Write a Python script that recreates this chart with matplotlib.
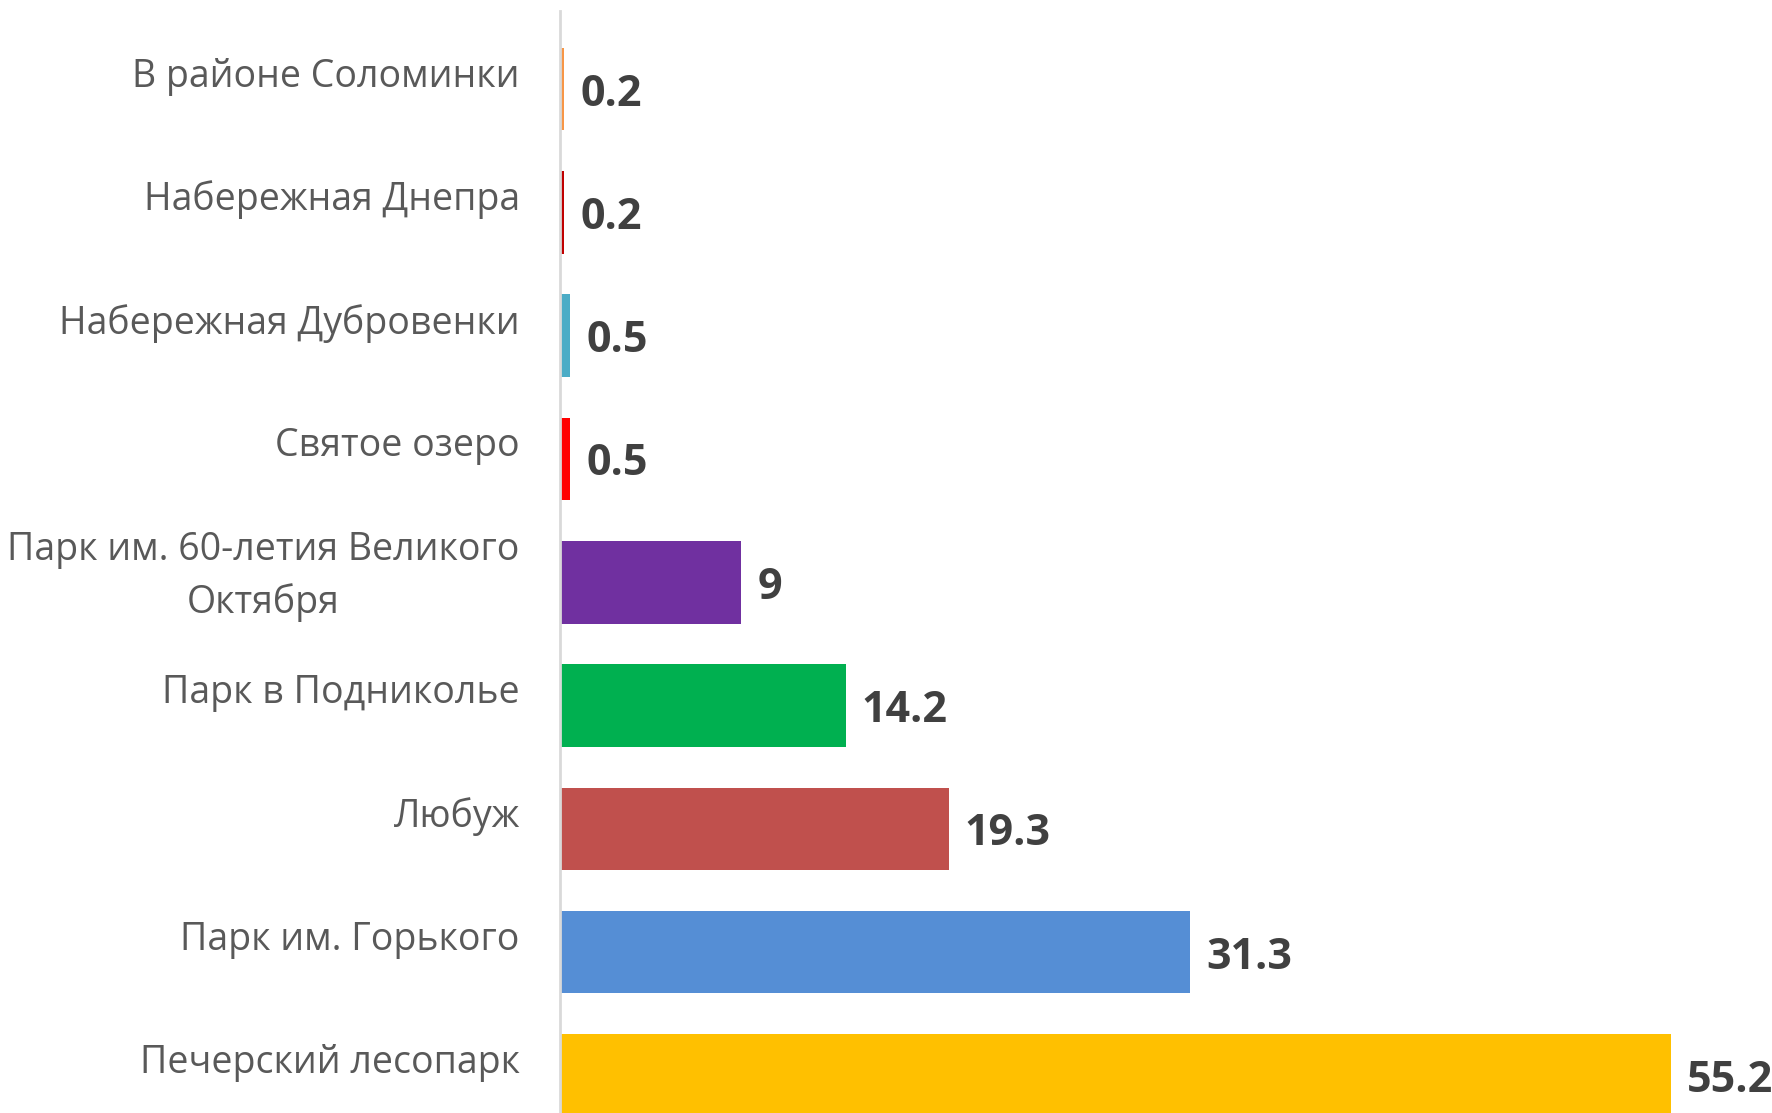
import matplotlib.pyplot as plt
from matplotlib.transforms import ScaledTranslation

plt.rcParams['font.family'] = ['Open Sans', 'DejaVu Sans']

# categories top to bottom
places = ['В районе Соломинки', 'Набережная Днепра', 'Набережная Дубровенки',
          'Святое озеро', 'Парк им. 60-летия Великого\nОктября', 'Парк в Подниколье',
          'Любуж', 'Парк им. Горького', 'Печерский лесопарк']
values = [0.2, 0.2, 0.5, 0.5, 9, 14.2, 19.3, 31.3, 55.2]
colors = ['#F79646', '#C00000', '#4BACC6', '#FF0000', '#7030A0',
          '#00B050', '#C0504D', '#558ED5', '#FFC000']

fig = plt.figure(figsize=(17.72, 11.13), dpi=100)
ax = fig.add_axes([560 / 1772, 0, 1 - 560 / 1772, 1102 / 1113])

pos = list(range(len(places)))
ax.barh(pos, values, height=0.67, color=colors)
ax.set_xlim(0, 60.2)
ax.set_ylim(8.305, -0.633)

# value labels
for p, v in zip(pos, values):
    ax.annotate(f'{v:g}', (v, p), xytext=(16, -5), textcoords='offset pixels',
                va='center', ha='left', fontsize=31, fontweight='bold',
                color='#404040', annotation_clip=False)

ax.set_yticks(pos)
ax.set_yticklabels(places, fontsize=27, color='#595959',
                   multialignment='center', linespacing=1.45)
ax.tick_params(axis='y', length=0, pad=29)
for lab in ax.get_yticklabels():
    lab.set_transform(lab.get_transform() + ScaledTranslation(0, 0.17, fig.dpi_scale_trans))

ax.set_xticks([])
for s in ['top', 'right', 'bottom']:
    ax.spines[s].set_visible(False)
ax.spines['left'].set_color('#D9D9D9')
ax.spines['left'].set_linewidth(2)

fig.savefig('out.png', dpi=100)
